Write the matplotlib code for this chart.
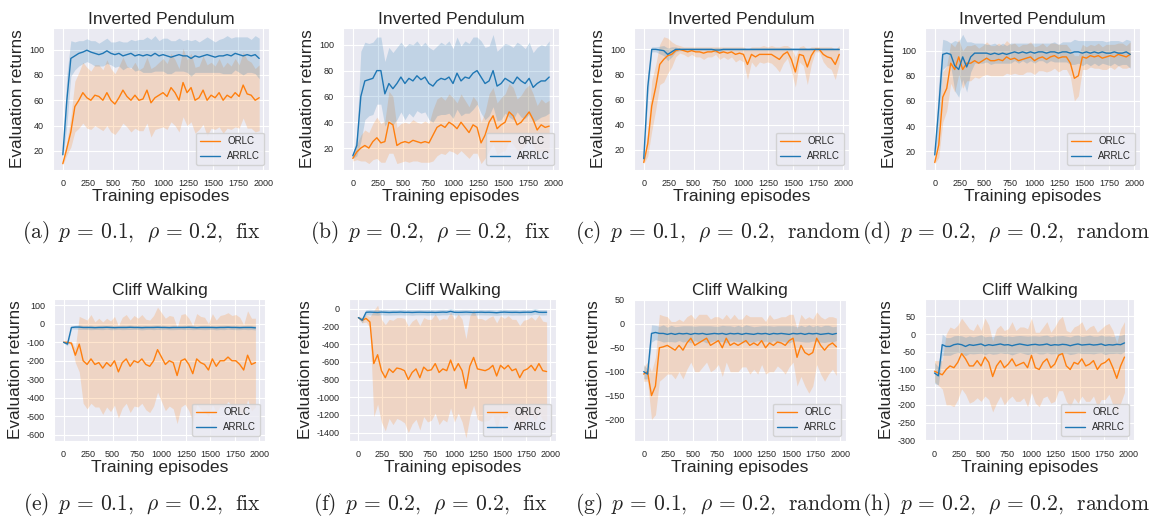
import numpy as np
import matplotlib
matplotlib.use("Agg")
import matplotlib.pyplot as plt
import seaborn as sns

# 50 evaluation points, every 40 training episodes
episodes = np.arange(0, 2000, 40)

# ---- (a) Inverted Pendulum, p=0.1, fix
a_orlc = [10, 22, 35, 55, 60, 66, 62, 60, 64, 63,
          60, 66, 60, 57, 62, 68, 63, 60, 64, 60,
          61, 68, 58, 62, 64, 66, 63, 70, 66, 60,
          74, 66, 70, 60, 62, 68, 60, 64, 62, 66,
          60, 64, 62, 66, 63, 72, 65, 64, 60, 62]
a_orlc_sd = [1, 5, 12, 20, 22, 24, 24, 23, 24, 25,
             24, 26, 25, 24, 25, 26, 24, 25, 26, 24,
             25, 26, 27, 25, 26, 27, 26, 27, 26, 25,
             27, 26, 27, 26, 25, 27, 28, 26, 25, 27,
             26, 26, 25, 27, 25, 26, 27, 26, 25, 26]
a_arrlc = [17, 60, 93, 95, 97, 98, 99.5, 98, 97, 96,
           97, 99, 97, 96, 97, 95, 96, 97, 95, 96,
           95, 96, 95, 97, 95, 96, 95, 94, 95, 96,
           95, 95, 93, 95, 94, 95, 96, 95, 94, 95,
           95, 96, 95, 97, 96, 95, 96, 95, 96, 93]
a_arrlc_sd = [2, 20, 14, 11, 10, 9, 9, 9, 10, 9,
              10, 10, 9, 10, 10, 11, 10, 11, 12, 12,
              13, 14, 13, 14, 12, 13, 14, 13, 12, 13,
              12, 13, 14, 13, 12, 13, 14, 13, 12, 13,
              14, 15, 14, 13, 14, 15, 14, 13, 15, 16]

# ---- (b) Inverted Pendulum, p=0.2, fix
b_orlc = [12, 17, 20, 22, 20, 25, 28, 24, 25, 40,
          38, 22, 24, 25, 24, 26, 25, 24, 25, 24,
          30, 36, 38, 36, 40, 38, 35, 40, 36, 32,
          38, 36, 24, 30, 40, 45, 35, 38, 40, 48,
          45, 38, 40, 44, 48, 42, 34, 38, 36, 37]
b_orlc_sd = [2, 6, 10, 12, 12, 14, 16, 15, 16, 24,
             22, 14, 15, 15, 15, 16, 15, 15, 16, 15,
             20, 22, 22, 21, 22, 21, 20, 22, 21, 20,
             22, 20, 16, 18, 22, 22, 20, 21, 22, 22,
             22, 20, 21, 22, 21, 20, 19, 20, 19, 20]
b_arrlc = [14, 22, 60, 72, 73, 74, 80, 80, 62, 70,
           66, 70, 75, 70, 74, 72, 76, 73, 75, 70,
           68, 72, 74, 73, 75, 70, 78, 72, 75, 74,
           78, 80, 75, 70, 72, 80, 68, 70, 74, 72,
           70, 75, 72, 70, 74, 67, 70, 72, 72, 75]
b_arrlc_sd = [2, 8, 35, 30, 28, 28, 26, 26, 25, 28,
              28, 28, 27, 28, 27, 28, 27, 26, 27, 28,
              28, 27, 28, 27, 28, 27, 28, 27, 28, 27,
              28, 26, 28, 28, 27, 28, 27, 28, 27, 28,
              28, 27, 28, 27, 28, 27, 28, 28, 27, 28]

# ---- (c) Inverted Pendulum, p=0.1, random
c_orlc = [10, 25, 55, 70, 88, 92, 95, 96, 99, 100,
          99, 98, 99, 98, 98, 97, 98, 98, 99, 97,
          98, 97, 98, 96, 97, 96, 88, 96, 94, 96,
          96, 96, 96, 94, 92, 96, 98, 92, 82, 96,
          95, 86, 95, 100, 100, 96, 94, 93, 88, 96]
c_orlc_sd = [1, 10, 20, 18, 16, 18, 14, 10, 5, 3,
             3, 4, 3, 4, 4, 5, 4, 4, 3, 5,
             4, 5, 4, 6, 5, 6, 12, 6, 8, 6,
             7, 6, 7, 8, 10, 7, 5, 9, 12, 6,
             8, 14, 7, 2, 2, 6, 8, 9, 12, 7]
c_arrlc = [13, 70, 100, 100, 99.5, 99, 96, 98, 100, 100,
           100, 100, 100, 100, 100, 100, 100, 100, 99.5, 99.5,
           100, 100, 100, 100, 100, 100, 100, 100, 100, 100,
           100, 100, 100, 100, 100, 100, 100, 100, 100, 100,
           100, 100, 100, 100, 100, 100, 100, 100, 100, 100]
c_arrlc_sd = [1, 10, 2, 2, 3, 4, 5, 4, 2, 1,
              1, 1, 1, 1, 1, 1, 1, 1, 2, 2,
              1, 1, 1, 1, 1, 1, 1, 1, 1, 1,
              1, 1, 1, 1, 1, 1, 1, 1, 1, 1,
              1, 1, 1, 1, 1, 1, 1, 1, 1, 1]

# ---- (d) Inverted Pendulum, p=0.2, random
d_orlc = [11, 25, 63, 70, 90, 85, 95, 85, 90, 90,
          92, 90, 92, 94, 92, 92, 93, 92, 95, 93,
          94, 92, 93, 94, 95, 92, 94, 95, 93, 95,
          96, 94, 95, 95, 90, 78, 80, 95, 94, 96,
          95, 96, 94, 95, 96, 95, 97, 96, 95, 97]
d_orlc_sd = [1, 10, 20, 18, 16, 18, 14, 15, 14, 14,
             13, 12, 12, 13, 12, 12, 13, 12, 13, 12,
             12, 11, 12, 11, 12, 11, 10, 11, 10, 11,
             10, 11, 10, 10, 11, 18, 16, 10, 9, 9,
             9, 10, 9, 10, 9, 10, 9, 10, 9, 10]
d_arrlc = [17, 55, 97, 98, 97, 88, 85, 95, 87, 95,
           98, 98, 98, 98, 97, 98, 97, 98, 97, 98,
           99, 98, 99, 98, 99, 98, 99, 99, 98, 99,
           99, 98, 99, 99, 98, 99, 99, 98, 99, 98,
           99, 98, 99, 98, 98, 99, 98, 98, 99, 97]
d_arrlc_sd = [2, 20, 12, 10, 9, 20, 22, 18, 20, 12,
              8, 8, 8, 7, 8, 8, 7, 8, 7, 8,
              7, 8, 7, 8, 7, 8, 7, 7, 8, 7,
              8, 7, 8, 8, 9, 10, 9, 10, 9, 10,
              9, 10, 9, 9, 10, 9, 10, 9, 10, 11]

# ---- (e) Cliff Walking, p=0.1, fix
e_orlc = [-100, -100, -105, -170, -110, -200, -220, -190, -220, -210,
          -240, -210, -230, -200, -260, -210, -190, -230, -200, -210,
          -190, -220, -230, -200, -140, -180, -220, -200, -210, -280,
          -200, -190, -220, -270, -190, -210, -220, -250, -190, -230,
          -200, -200, -180, -200, -200, -220, -250, -170, -220, -210]
e_orlc_sd = [3, 5, 10, 40, 150, 230, 240, 240, 230, 240,
             250, 240, 245, 240, 250, 245, 240, 250, 245, 240,
             240, 245, 250, 245, 230, 240, 250, 245, 250, 260,
             250, 245, 250, 260, 245, 250, 255, 250, 245, 250,
             245, 250, 240, 245, 250, 255, 245, 240, 250, 240]
e_arrlc = [-100, -110, -20, -18, -18, -20, -20, -20, -21, -20,
           -20, -19, -20, -21, -20, -20, -20, -19, -20, -20,
           -21, -20, -20, -20, -19, -20, -20, -21, -20, -20,
           -20, -20, -19, -20, -21, -20, -20, -20, -20, -21,
           -20, -20, -19, -20, -20, -21, -20, -20, -20, -22]
e_arrlc_sd = [3, 10, 8, 10, 12, 10, 11, 12, 10, 11,
              12, 10, 12, 11, 10, 12, 11, 12, 10, 11,
              12, 11, 10, 12, 11, 12, 10, 11, 12, 11,
              10, 12, 11, 12, 10, 11, 12, 11, 10, 12,
              11, 12, 10, 11, 12, 11, 10, 12, 11, 12]

# ---- (f) Cliff Walking, p=0.2, fix
f_orlc = [-100, -130, -110, -150, -620, -520, -700, -780, -680, -720,
          -670, -680, -700, -800, -720, -680, -780, -660, -700, -690,
          -620, -720, -680, -700, -580, -700, -620, -700, -900, -650,
          -550, -680, -690, -700, -680, -640, -760, -640, -680, -640,
          -700, -680, -780, -700, -680, -640, -700, -620, -700, -710]
f_orlc_sd = [10, 30, 40, 60, 600, 560, 580, 600, 560, 590,
             570, 580, 590, 600, 580, 570, 590, 560, 580, 570,
             560, 590, 570, 580, 540, 580, 560, 580, 560, 570,
             540, 570, 580, 570, 580, 560, 600, 560, 570, 560,
             580, 560, 590, 570, 560, 550, 570, 550, 560, 560]
f_arrlc = [-100, -130, -40, -38, -40, -42, -38, -40, -42, -40,
           -40, -38, -41, -40, -42, -40, -39, -40, -41, -40,
           -42, -40, -38, -40, -30, -40, -41, -40, -38, -40,
           -42, -40, -39, -41, -40, -42, -45, -40, -38, -40,
           -41, -40, -42, -40, -39, -40, -30, -40, -41, -40]
f_arrlc_sd = [10, 30, 30, 32, 30, 31, 30, 32, 30, 31,
              30, 32, 31, 30, 32, 30, 31, 30, 32, 31,
              30, 32, 31, 30, 32, 31, 30, 32, 30, 31,
              32, 30, 31, 30, 32, 31, 30, 32, 31, 30,
              32, 31, 30, 32, 30, 31, 32, 30, 31, 30]

# ---- (g) Cliff Walking, p=0.1, random
g_orlc = [-105, -100, -150, -130, -50, -48, -45, -50, -55, -45,
          -55, -40, -30, -45, -40, -35, -30, -45, -40, -35,
          -50, -30, -45, -40, -45, -40, -35, -45, -40, -45,
          -35, -50, -40, -45, -38, -40, -45, -35, -30, -70,
          -45, -60, -65, -60, -30, -45, -55, -45, -40, -48]
g_orlc_sd = [15, 20, 50, 60, 70, 65, 60, 55, 60, 55,
             60, 55, 50, 55, 60, 55, 50, 55, 55, 50,
             60, 50, 55, 60, 55, 50, 55, 60, 55, 60,
             50, 55, 60, 55, 50, 55, 60, 55, 50, 60,
             65, 70, 80, 70, 55, 60, 65, 60, 55, 60]
g_arrlc = [-100, -105, -20, -18, -20, -20, -22, -20, -22, -20,
           -21, -20, -22, -20, -21, -20, -22, -21, -20, -21,
           -20, -22, -20, -21, -20, -22, -20, -21, -22, -20,
           -21, -20, -22, -20, -21, -20, -21, -22, -20, -21,
           -20, -22, -20, -21, -20, -22, -21, -20, -22, -20]
g_arrlc_sd = [15, 10, 18, 15, 15, 18, 15, 17, 16, 15,
              17, 16, 18, 15, 17, 16, 18, 17, 15, 16,
              17, 18, 16, 15, 17, 16, 18, 17, 16, 15,
              17, 16, 18, 15, 17, 16, 17, 18, 16, 15,
              17, 16, 18, 15, 17, 16, 18, 17, 16, 15]

# ---- (h) Cliff Walking, p=0.2, random
h_orlc = [-105, -110, -115, -100, -90, -95, -80, -55, -70, -90,
          -90, -75, -90, -65, -80, -120, -90, -75, -95, -85,
          -70, -90, -85, -80, -95, -60, -95, -100, -80, -70,
          -95, -85, -60, -55, -90, -100, -80, -85, -70, -90,
          -85, -75, -100, -85, -80, -70, -95, -125, -90, -65]
h_orlc_sd = [30, 35, 40, 100, 110, 110, 105, 100, 100, 105,
             100, 105, 100, 110, 105, 100, 105, 100, 105, 100,
             105, 100, 105, 100, 110, 105, 100, 105, 100, 105,
             100, 105, 100, 105, 100, 105, 100, 110, 105, 100,
             105, 100, 105, 100, 105, 100, 105, 100, 105, 100]
h_arrlc = [-110, -118, -30, -35, -35, -30, -28, -30, -35, -30,
           -32, -30, -28, -33, -30, -32, -30, -28, -31, -30,
           -33, -30, -28, -30, -32, -30, -29, -31, -30, -28,
           -32, -30, -31, -29, -30, -33, -30, -28, -31, -30,
           -29, -31, -30, -28, -32, -30, -31, -29, -30, -25]
h_arrlc_sd = [30, 25, 30, 25, 25, 25, 24, 25, 26, 25,
              24, 25, 26, 25, 24, 25, 26, 25, 24, 25,
              26, 25, 24, 25, 26, 25, 24, 25, 26, 25,
              24, 25, 26, 25, 24, 25, 26, 25, 24, 25,
              26, 25, 24, 25, 26, 25, 24, 25, 26, 25]

titles = ["Inverted Pendulum"] * 4 + ["Cliff Walking"] * 4
labels = ["a", "b", "c", "d", "e", "f", "g", "h"]
p_vals = ["0.1", "0.2", "0.1", "0.2", "0.1", "0.2", "0.1", "0.2"]
modes = ["fix", "fix", "random", "random", "fix", "fix", "random", "random"]
yticks = [[20, 40, 60, 80, 100]] * 4 + [
    [-600, -500, -400, -300, -200, -100, 0, 100],
    [-1400, -1200, -1000, -800, -600, -400, -200, 0],
    [-200, -150, -100, -50, 0, 50],
    [-300, -250, -200, -150, -100, -50, 0, 50]]
ylims = [(5, 117), (3, 113), (4, 117), (5, 118),
         (-634, 134), (-1495, 110), (-245, 52), (-302, 99)]

series = [(a_orlc, a_orlc_sd, a_arrlc, a_arrlc_sd),
          (b_orlc, b_orlc_sd, b_arrlc, b_arrlc_sd),
          (c_orlc, c_orlc_sd, c_arrlc, c_arrlc_sd),
          (d_orlc, d_orlc_sd, d_arrlc, d_arrlc_sd),
          (e_orlc, e_orlc_sd, e_arrlc, e_arrlc_sd),
          (f_orlc, f_orlc_sd, f_arrlc, f_arrlc_sd),
          (g_orlc, g_orlc_sd, g_arrlc, g_arrlc_sd),
          (h_orlc, h_orlc_sd, h_arrlc, h_arrlc_sd)]

# axes boxes in pixels (left, right), rows (top, bottom)
W, H = 1152, 517
col_px = [[(53, 269), (343, 559), (634, 849), (925, 1140)],
          [(54, 265), (349, 556), (634, 846), (925, 1134)]]
row_px = [(28, 170), (299, 441)]
caption_y = [233, 505]

sns.set_style("darkgrid")
plt.rcParams["font.family"] = ["Liberation Sans", "DejaVu Sans"]
plt.rcParams["mathtext.fontset"] = "cm"

ORANGE = "#ff7f0e"
BLUE = "#1f77b4"

fig = plt.figure(figsize=(W / 100, H / 100), dpi=100)

for i in range(8):
    r, c = divmod(i, 4)
    l, rr = col_px[r][c]
    t, b = row_px[r]
    ax = fig.add_axes([l / W, 1 - b / H, (rr - l) / W, (b - t) / H])
    o, osd, a, asd = [np.array(s, dtype=float) for s in series[i]]

    ax.fill_between(episodes, o - osd, o + osd, color=ORANGE, alpha=0.2, lw=0)
    ax.fill_between(episodes, a - asd, a + asd, color=BLUE, alpha=0.2, lw=0)
    ax.plot(episodes, o, color=ORANGE, lw=1.0, label="ORLC")
    ax.plot(episodes, a, color=BLUE, lw=1.0, label="ARRLC")

    ax.set_xlim(-98, 2058)
    ax.set_ylim(*ylims[i])
    ax.set_xticks([0, 250, 500, 750, 1000, 1250, 1500, 1750, 2000])
    minus = "\u2212" if i == 6 else "-"
    ax.set_yticks(yticks[i], labels=[str(v).replace("-", minus) for v in yticks[i]])
    ax.tick_params(labelsize=6.5, pad=3)

    ax.set_title(titles[i], fontsize=12.6, pad=3)
    ax.set_xlabel("Training episodes", fontsize=12.6, labelpad=1)
    ax.set_ylabel("Evaluation returns", fontsize=12.3, labelpad=3)
    ax.legend(loc="lower right", fontsize=7, frameon=True)

    cap = (r"$\mathrm{(%s)}\ \,p\,=\,%s,\ \,\rho\,=\,0.2,\ \,\mathrm{%s}$"
           % (labels[i], p_vals[i], modes[i]))
    fig.text((142 + 288 * c) / W, 1 - caption_y[r] / H, cap,
             ha="center", va="center", fontsize=15.5)

fig.savefig("out.png", dpi=100)
